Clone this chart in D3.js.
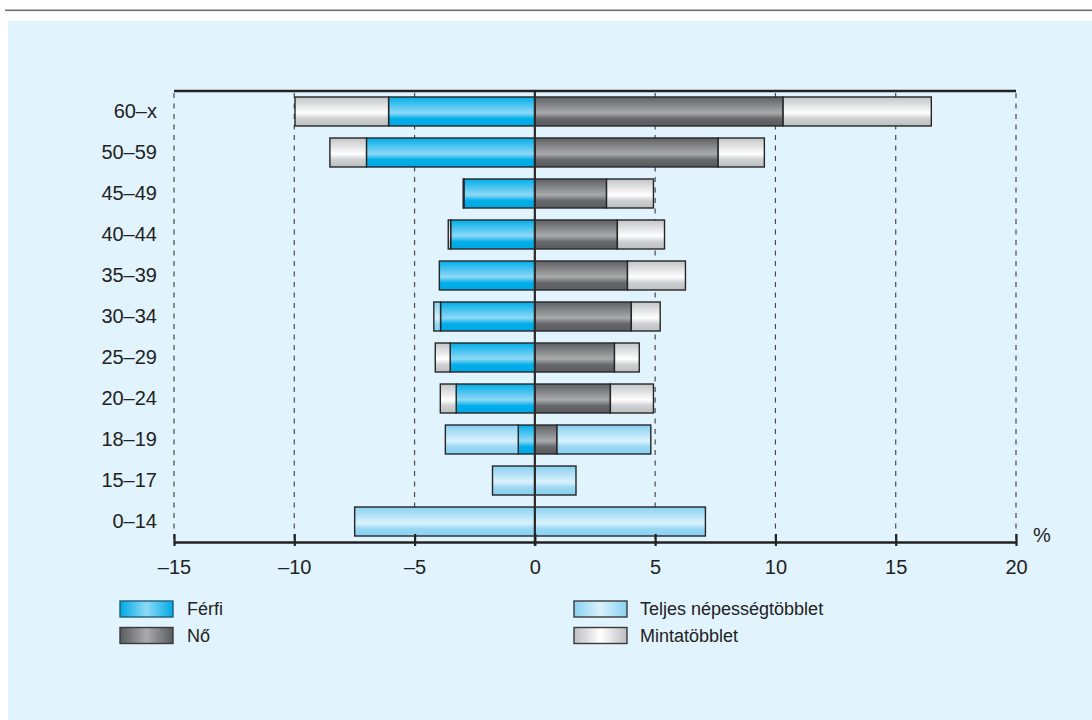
<!DOCTYPE html>
<html>
<head>
<meta charset="utf-8">
<script src="https://cdn.jsdelivr.net/npm/d3@7"></script>
<style>
  html, body { margin: 0; padding: 0; background: #ffffff; }
  svg { display: block; font-family: "Liberation Sans", Arial, Helvetica, sans-serif; }
</style>
</head>
<body>
<svg id="chart" width="1092" height="720"></svg>
<script>
// Age groups, top to bottom
const ageGroups = ["60–x", "50–59", "45–49", "40–44", "35–39", "30–34", "25–29", "20–24", "18–19", "15–17", "0–14"];

// Men (left side, %): sample share and full extent including surplus
const maleSample = [-6.08, -7.0, -2.95, -3.5, -3.97, -3.92, -3.52, -3.27, -0.69, 0, 0];
const maleTotal  = [-9.97, -8.52, -2.98, -3.6, -3.97, -4.2, -4.14, -3.93, -3.72, -1.76, -7.49];
const maleSurplusKind = ["minta", "minta", "minta", "minta", "minta", "teljes", "minta", "minta", "teljes", "teljes", "teljes"];

// Women (right side, %)
const femaleSample = [10.32, 7.62, 2.98, 3.43, 3.85, 4.01, 3.31, 3.14, 0.92, 0, 0];
const femaleTotal  = [16.48, 9.54, 4.93, 5.39, 6.26, 5.21, 4.34, 4.93, 4.82, 1.71, 7.09];
const femaleSurplusKind = ["minta", "minta", "minta", "minta", "minta", "minta", "minta", "minta", "teljes", "teljes", "teljes"];

// Axis ticks
const xTicks = [-15, -10, -5, 0, 5, 10, 15, 20];
const unitLabel = "%";

// Legend entries
const legendLeft = [["ferfi", "Férfi"], ["no", "Nő"]];
const legendRight = [["teljes", "Teljes népességtöbblet"], ["minta", "Mintatöbblet"]];

const svg = d3.select("#chart");

// header rule and panel
svg.append("rect").attr("x", 5).attr("y", 9.5).attr("width", 1087).attr("height", 1.6).attr("fill", "#6f6f6f");
svg.append("rect").attr("x", 8).attr("y", 21).attr("width", 1084).attr("height", 699).attr("fill", "#e1f3fd");

// gradients
const fills = {
  ferfi:  ["#00aee9", "#8fd9f6", "#00aee9", "#00a9e4"],
  no:     ["#5f6063", "#a9aaac", "#67686b", "#5a5b5e"],
  minta:  ["#c3c4c6", "#ffffff", "#cfd0d2", "#bdbec0"],
  teljes: ["#88d0f1", "#daf2fc", "#9ad8f4", "#88d0f1"]
};
const defs = svg.append("defs");
Object.entries(fills).forEach(([key, c]) => {
  const v = defs.append("linearGradient").attr("id", "v-" + key)
    .attr("x1", 0).attr("y1", 0).attr("x2", 0).attr("y2", 1);
  v.append("stop").attr("offset", "0%").attr("stop-color", c[0]);
  v.append("stop").attr("offset", "55%").attr("stop-color", c[1]);
  v.append("stop").attr("offset", "75%").attr("stop-color", c[2]);
  v.append("stop").attr("offset", "100%").attr("stop-color", c[3]);
  const h = defs.append("linearGradient").attr("id", "h-" + key)
    .attr("x1", 0).attr("y1", 0).attr("x2", 1).attr("y2", 0);
  h.append("stop").attr("offset", "0%").attr("stop-color", c[3]);
  h.append("stop").attr("offset", "50%").attr("stop-color", c[1]);
  h.append("stop").attr("offset", "100%").attr("stop-color", c[3]);
});

// scales
const x = d3.scaleLinear().domain([-15, 20]).range([174, 1016]);
const y = d3.scaleBand().domain(ageGroups).range([91, 542]).paddingInner(0.293).paddingOuter(0.146);

// dashed grid
svg.append("g").selectAll("line")
  .data(xTicks.filter(t => t !== 0))
  .join("line")
  .attr("x1", d => x(d)).attr("x2", d => x(d))
  .attr("y1", 93).attr("y2", 541)
  .attr("stroke", "#4a4a4a").attr("stroke-width", 1.2)
  .attr("stroke-dasharray", "5,5.5");

// bar segments
const segments = [];
ageGroups.forEach((g, i) => {
  if (maleSample[i] !== 0) segments.push({ g, a: 0, b: maleSample[i], kind: "ferfi" });
  if (maleTotal[i] !== maleSample[i]) segments.push({ g, a: maleSample[i], b: maleTotal[i], kind: maleSurplusKind[i] });
  if (femaleSample[i] !== 0) segments.push({ g, a: 0, b: femaleSample[i], kind: "no" });
  if (femaleTotal[i] !== femaleSample[i]) segments.push({ g, a: femaleSample[i], b: femaleTotal[i], kind: femaleSurplusKind[i] });
});

svg.append("g").selectAll("rect")
  .data(segments)
  .join("rect")
  .attr("x", d => x(Math.min(d.a, d.b)))
  .attr("width", d => Math.abs(x(d.b) - x(d.a)))
  .attr("y", d => y(d.g))
  .attr("height", y.bandwidth())
  .attr("fill", d => `url(#v-${d.kind})`)
  .attr("stroke", "#262626")
  .attr("stroke-width", 1.4);

// zero line
svg.append("line")
  .attr("x1", x(0)).attr("x2", x(0)).attr("y1", 91).attr("y2", 546)
  .attr("stroke", "#2a2a2a").attr("stroke-width", 2.2);

// top frame line
svg.append("line")
  .attr("x1", x(-15)).attr("x2", x(20)).attr("y1", 91).attr("y2", 91)
  .attr("stroke", "#222").attr("stroke-width", 2.6);

// bottom axis
const axis = d3.axisBottom(x)
  .tickValues(xTicks)
  .tickSize(0)
  .tickFormat(d => d < 0 ? "–" + Math.abs(d) : String(d));
const ax = svg.append("g").attr("transform", "translate(0,542)").call(axis);
ax.select(".domain").attr("stroke", "#222").attr("stroke-width", 2.6);
ax.selectAll(".tick line").remove();
ax.selectAll(".tick").append("line")
  .attr("y1", -8).attr("y2", 4)
  .attr("stroke", "#222").attr("stroke-width", 2.2);
ax.selectAll(".tick text")
  .attr("y", 18).attr("dy", "0.71em")
  .attr("fill", "#222").attr("font-size", 20)
  .attr("font-family", "'Liberation Sans', Arial, sans-serif");

svg.append("text")
  .attr("x", 1033).attr("y", 542)
  .attr("font-size", 20).attr("fill", "#222")
  .text(unitLabel);

// age labels
const ay = d3.axisLeft(y).tickSize(0).tickPadding(0);
const ag = svg.append("g").attr("transform", "translate(157,0)").call(ay);
ag.select(".domain").remove();
ag.selectAll(".tick text")
  .attr("fill", "#222").attr("font-size", 20)
  .attr("font-family", "'Liberation Sans', Arial, sans-serif");

// legend
function legend(entries, x0, xText) {
  const g = svg.append("g");
  entries.forEach(([key, label], i) => {
    const yy = 601 + i * 26.5;
    g.append("rect")
      .attr("x", x0).attr("y", yy).attr("width", 53).attr("height", 16)
      .attr("fill", `url(#h-${key})`)
      .attr("stroke", key === "ferfi" ? "#1d5f7c" : "#3a3a3a")
      .attr("stroke-width", 1.4);
    g.append("text")
      .attr("x", xText).attr("y", yy + 8).attr("dy", "0.36em")
      .attr("font-size", 18).attr("fill", "#222")
      .text(label);
  });
}
legend(legendLeft, 120, 187);
legend(legendRight, 574, 640);
</script>
</body>
</html>
